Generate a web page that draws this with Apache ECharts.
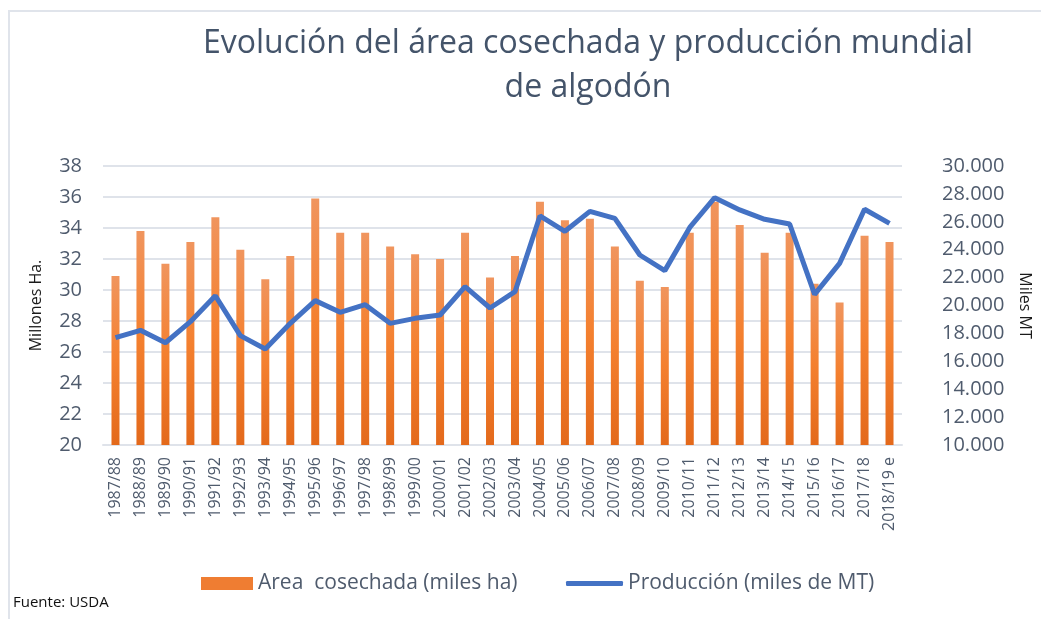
<!DOCTYPE html>
<html style="height: 100%">
<head>
<meta charset="utf-8">
</head>
<body style="height: 100%; margin: 0; background: #fff">
<div id="container" style="width: 1041px; height: 619px"></div>
<script type="text/javascript" src="https://cdn.jsdelivr.net/npm/echarts@6/dist/echarts.min.js"></script>
<script type="text/javascript">
var campanas = ['1987/88', '1988/89', '1989/90', '1990/91', '1991/92', '1992/93', '1993/94', '1994/95',
    '1995/96', '1996/97', '1997/98', '1998/99', '1999/00', '2000/01', '2001/02', '2002/03', '2003/04',
    '2004/05', '2005/06', '2006/07', '2007/08', '2008/09', '2009/10', '2010/11', '2011/12', '2012/13',
    '2013/14', '2014/15', '2015/16', '2016/17', '2017/18', '2018/19 e'];
// millones de ha (eje izquierdo)
var area = [30.9, 33.8, 31.7, 33.1, 34.7, 32.6, 30.7, 32.2, 35.9, 33.7, 33.7, 32.8, 32.3, 32.0, 33.7, 30.8,
    32.2, 35.7, 34.5, 34.6, 32.8, 30.6, 30.2, 33.7, 35.7, 34.2, 32.4, 33.7, 30.4, 29.2, 33.5, 33.1];
// miles de MT (eje derecho)
var produccion = [17690, 18220, 17330, 18840, 20700, 17840, 16880, 18720, 20350, 19510, 20060, 18720,
    19080, 19320, 21350, 19820, 20990, 26420, 25320, 26750, 26250, 23620, 22500, 25600, 27730, 26850,
    26180, 25840, 20800, 23020, 26900, 25890];

var textColor = '#4f5b6d';
var font = '"Open Sans", sans-serif';

var chart = echarts.init(document.getElementById('container'));

var option = {
    backgroundColor: '#fff',
    animation: false,
    textStyle: { fontFamily: font },
    title: [{
        text: 'Evolución del área cosechada y producción mundial\nde algodón',
        left: 583,
        top: 17,
        textAlign: 'center',
        textStyle: { fontFamily: font, fontSize: 32, fontWeight: 'normal', color: '#44546a', lineHeight: 44 }
    }, {
        text: 'Fuente: USDA',
        left: 13,
        top: 595,
        padding: 0,
        textStyle: { fontFamily: font, fontSize: 15, fontWeight: 'normal', color: '#111' }
    }],
    graphic: [{
        type: 'rect',
        shape: { x: 9, y: 11, width: 1100, height: 700 },
        style: { fill: 'none', stroke: '#e0e4eb', lineWidth: 2 },
        silent: true
    }],
    legend: [{
        left: 201,
        top: 573,
        padding: 0,
        itemWidth: 52,
        itemHeight: 13,
        itemGap: 5,
        icon: 'rect',
        itemStyle: { color: '#ef7d32' },
        data: ['Area  cosechada (miles ha)'],
        textStyle: { fontFamily: font, fontSize: 21, color: textColor }
    }, {
        left: 566,
        top: 573,
        padding: 0,
        itemWidth: 57,
        itemHeight: 5,
        icon: 'roundRect',
        data: ['Producción (miles de MT)'],
        textStyle: { fontFamily: font, fontSize: 21, color: textColor }
    }],
    grid: { left: 103, right: 127, top: 166, bottom: 174 },
    xAxis: {
        type: 'category',
        data: campanas,
        axisLine: { lineStyle: { color: '#dfe3ea', width: 2 } },
        axisTick: { show: false },
        axisLabel: { rotate: 90, interval: 0, fontSize: 16, color: textColor, margin: 12 }
    },
    yAxis: [{
        type: 'value',
        min: 20,
        max: 38,
        interval: 2,
        name: 'Millones Ha.',
        nameLocation: 'middle',
        nameRotate: 90,
        nameGap: 59,
        nameTextStyle: { fontSize: 16, color: '#1a1a1a' },
        axisLabel: { fontSize: 20, color: textColor, margin: 21 },
        splitLine: { lineStyle: { color: '#dfe3ea', width: 2 } }
    }, {
        type: 'value',
        min: 10000,
        max: 30000,
        interval: 2000,
        position: 'right',
        name: 'Miles MT',
        nameLocation: 'middle',
        nameRotate: -90,
        nameGap: 115,
        nameTextStyle: { fontSize: 16, color: '#1a1a1a' },
        axisLabel: {
            fontSize: 20, color: textColor, margin: 40,
            formatter: function (v) { return (v / 1000).toFixed(3); }
        },
        splitLine: { show: false }
    }],
    series: [{
        name: 'Area  cosechada (miles ha)',
        type: 'bar',
        yAxisIndex: 0,
        data: area,
        barWidth: 8,
        itemStyle: {
            color: new echarts.graphic.LinearGradient(0, 0, 0, 1, [
                { offset: 0, color: '#f0955e' },
                { offset: 0.5, color: '#f4802f' },
                { offset: 1, color: '#e3691b' }
            ])
        }
    }, {
        name: 'Producción (miles de MT)',
        type: 'line',
        yAxisIndex: 1,
        data: produccion,
        showSymbol: false,
        symbol: 'none',
        color: '#4472c4',
        lineStyle: { color: '#4472c4', width: 5 },
        z: 3
    }]
};

chart.setOption(option);
</script>
</body>
</html>
